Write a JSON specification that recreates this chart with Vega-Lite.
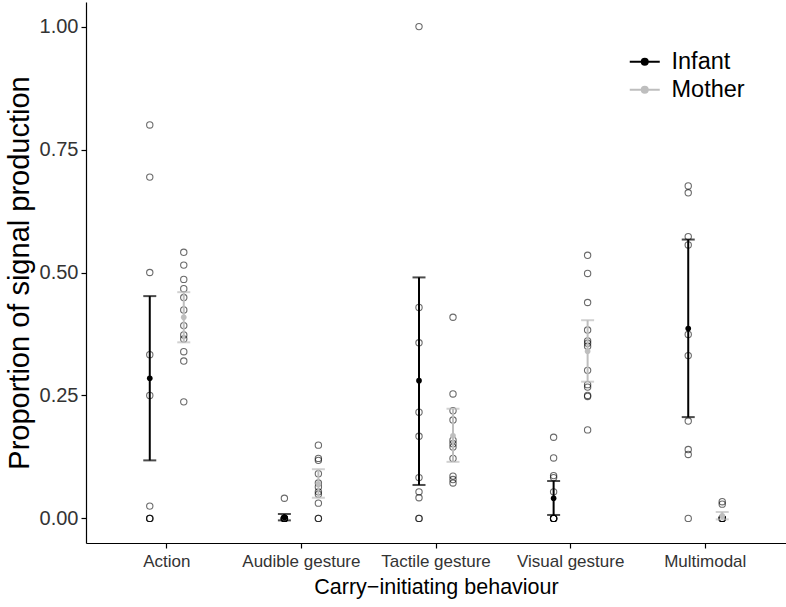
{
  "$schema": "https://vega.github.io/schema/vega-lite/v6.json",
  "width": 700,
  "height": 541,
  "autosize": {"type": "none"},
  "padding": {"left": 86, "top": 2, "right": 0, "bottom": 64},
  "config": {
    "view": {"stroke": null},
    "font": "Liberation Sans",
    "axis": {
      "grid": false,
      "domainColor": "black",
      "domainWidth": 1.2,
      "tickColor": "black",
      "tickWidth": 1.2,
      "tickSize": 5,
      "labelColor": "#4D4D4D",
      "labelFontSize": 18,
      "titleFontSize": 22,
      "titleFontWeight": "normal",
      "titleColor": "black",
      "labelPadding": 3
    },
    "legend": {
      "orient": "none",
      "legendX": 547,
      "legendY": 48,
      "labelFontSize": 23.5,
      "labelColor": "black",
      "symbolType": "M-2,0H2M-0.4,0A0.4,0.4 0 1,0 0.4,0A0.4,0.4 0 1,0 -0.4,0",
      "symbolSize": 225,
      "symbolStrokeWidth": 2,
      "symbolOpacity": 1,
      "labelOffset": 15,
      "rowPadding": 3,
      "padding": 0
    }
  },
  "datasets": {
    "raw": [
      {"cat": "Action", "group": "Infant", "value": 0.8},
      {"cat": "Action", "group": "Infant", "value": 0.694},
      {"cat": "Action", "group": "Infant", "value": 0.5},
      {"cat": "Action", "group": "Infant", "value": 0.333},
      {"cat": "Action", "group": "Infant", "value": 0.25},
      {"cat": "Action", "group": "Infant", "value": 0.025},
      {"cat": "Action", "group": "Infant", "value": 0},
      {"cat": "Action", "group": "Infant", "value": 0},
      {"cat": "Action", "group": "Infant", "value": 0},
      {"cat": "Action", "group": "Mother", "value": 0.541},
      {"cat": "Action", "group": "Mother", "value": 0.515},
      {"cat": "Action", "group": "Mother", "value": 0.486},
      {"cat": "Action", "group": "Mother", "value": 0.467},
      {"cat": "Action", "group": "Mother", "value": 0.449},
      {"cat": "Action", "group": "Mother", "value": 0.424},
      {"cat": "Action", "group": "Mother", "value": 0.392},
      {"cat": "Action", "group": "Mother", "value": 0.373},
      {"cat": "Action", "group": "Mother", "value": 0.365},
      {"cat": "Action", "group": "Mother", "value": 0.339},
      {"cat": "Action", "group": "Mother", "value": 0.32},
      {"cat": "Action", "group": "Mother", "value": 0.237},
      {"cat": "Audible gesture", "group": "Infant", "value": 0.041},
      {"cat": "Audible gesture", "group": "Infant", "value": 0},
      {"cat": "Audible gesture", "group": "Infant", "value": 0},
      {"cat": "Audible gesture", "group": "Infant", "value": 0},
      {"cat": "Audible gesture", "group": "Infant", "value": 0},
      {"cat": "Audible gesture", "group": "Infant", "value": 0},
      {"cat": "Audible gesture", "group": "Infant", "value": 0},
      {"cat": "Audible gesture", "group": "Mother", "value": 0.149},
      {"cat": "Audible gesture", "group": "Mother", "value": 0.122},
      {"cat": "Audible gesture", "group": "Mother", "value": 0.118},
      {"cat": "Audible gesture", "group": "Mother", "value": 0.091},
      {"cat": "Audible gesture", "group": "Mother", "value": 0.072},
      {"cat": "Audible gesture", "group": "Mother", "value": 0.064},
      {"cat": "Audible gesture", "group": "Mother", "value": 0.054},
      {"cat": "Audible gesture", "group": "Mother", "value": 0.049},
      {"cat": "Audible gesture", "group": "Mother", "value": 0.031},
      {"cat": "Audible gesture", "group": "Mother", "value": 0},
      {"cat": "Audible gesture", "group": "Mother", "value": 0},
      {"cat": "Tactile gesture", "group": "Infant", "value": 1.0},
      {"cat": "Tactile gesture", "group": "Infant", "value": 0.429},
      {"cat": "Tactile gesture", "group": "Infant", "value": 0.357},
      {"cat": "Tactile gesture", "group": "Infant", "value": 0.216},
      {"cat": "Tactile gesture", "group": "Infant", "value": 0.167},
      {"cat": "Tactile gesture", "group": "Infant", "value": 0.083},
      {"cat": "Tactile gesture", "group": "Infant", "value": 0.054},
      {"cat": "Tactile gesture", "group": "Infant", "value": 0.042},
      {"cat": "Tactile gesture", "group": "Infant", "value": 0},
      {"cat": "Tactile gesture", "group": "Infant", "value": 0},
      {"cat": "Tactile gesture", "group": "Mother", "value": 0.409},
      {"cat": "Tactile gesture", "group": "Mother", "value": 0.253},
      {"cat": "Tactile gesture", "group": "Mother", "value": 0.219},
      {"cat": "Tactile gesture", "group": "Mother", "value": 0.2},
      {"cat": "Tactile gesture", "group": "Mother", "value": 0.159},
      {"cat": "Tactile gesture", "group": "Mother", "value": 0.152},
      {"cat": "Tactile gesture", "group": "Mother", "value": 0.145},
      {"cat": "Tactile gesture", "group": "Mother", "value": 0.122},
      {"cat": "Tactile gesture", "group": "Mother", "value": 0.086},
      {"cat": "Tactile gesture", "group": "Mother", "value": 0.079},
      {"cat": "Tactile gesture", "group": "Mother", "value": 0.072},
      {"cat": "Visual gesture", "group": "Infant", "value": 0.165},
      {"cat": "Visual gesture", "group": "Infant", "value": 0.123},
      {"cat": "Visual gesture", "group": "Infant", "value": 0.087},
      {"cat": "Visual gesture", "group": "Infant", "value": 0.083},
      {"cat": "Visual gesture", "group": "Infant", "value": 0.054},
      {"cat": "Visual gesture", "group": "Infant", "value": 0},
      {"cat": "Visual gesture", "group": "Infant", "value": 0},
      {"cat": "Visual gesture", "group": "Infant", "value": 0},
      {"cat": "Visual gesture", "group": "Infant", "value": 0},
      {"cat": "Visual gesture", "group": "Infant", "value": 0},
      {"cat": "Visual gesture", "group": "Mother", "value": 0.535},
      {"cat": "Visual gesture", "group": "Mother", "value": 0.498},
      {"cat": "Visual gesture", "group": "Mother", "value": 0.439},
      {"cat": "Visual gesture", "group": "Mother", "value": 0.383},
      {"cat": "Visual gesture", "group": "Mother", "value": 0.361},
      {"cat": "Visual gesture", "group": "Mother", "value": 0.356},
      {"cat": "Visual gesture", "group": "Mother", "value": 0.35},
      {"cat": "Visual gesture", "group": "Mother", "value": 0.301},
      {"cat": "Visual gesture", "group": "Mother", "value": 0.272},
      {"cat": "Visual gesture", "group": "Mother", "value": 0.267},
      {"cat": "Visual gesture", "group": "Mother", "value": 0.25},
      {"cat": "Visual gesture", "group": "Mother", "value": 0.248},
      {"cat": "Visual gesture", "group": "Mother", "value": 0.18},
      {"cat": "Multimodal", "group": "Infant", "value": 0.676},
      {"cat": "Multimodal", "group": "Infant", "value": 0.662},
      {"cat": "Multimodal", "group": "Infant", "value": 0.573},
      {"cat": "Multimodal", "group": "Infant", "value": 0.556},
      {"cat": "Multimodal", "group": "Infant", "value": 0.374},
      {"cat": "Multimodal", "group": "Infant", "value": 0.331},
      {"cat": "Multimodal", "group": "Infant", "value": 0.198},
      {"cat": "Multimodal", "group": "Infant", "value": 0.14},
      {"cat": "Multimodal", "group": "Infant", "value": 0.13},
      {"cat": "Multimodal", "group": "Infant", "value": 0},
      {"cat": "Multimodal", "group": "Mother", "value": 0.034},
      {"cat": "Multimodal", "group": "Mother", "value": 0.029},
      {"cat": "Multimodal", "group": "Mother", "value": 0},
      {"cat": "Multimodal", "group": "Mother", "value": 0},
      {"cat": "Multimodal", "group": "Mother", "value": 0},
      {"cat": "Multimodal", "group": "Mother", "value": 0},
      {"cat": "Multimodal", "group": "Mother", "value": 0}
    ],
    "summary": [
      {"cat": "Action", "group": "Infant", "mean": 0.285, "lo": 0.118, "hi": 0.452},
      {"cat": "Action", "group": "Mother", "mean": 0.409, "lo": 0.358, "hi": 0.46},
      {"cat": "Audible gesture", "group": "Infant", "mean": 0.002, "lo": -0.004, "hi": 0.009},
      {"cat": "Audible gesture", "group": "Mother", "mean": 0.07, "lo": 0.042, "hi": 0.1},
      {"cat": "Tactile gesture", "group": "Infant", "mean": 0.28, "lo": 0.068, "hi": 0.49},
      {"cat": "Tactile gesture", "group": "Mother", "mean": 0.168, "lo": 0.115, "hi": 0.223},
      {"cat": "Visual gesture", "group": "Infant", "mean": 0.041, "lo": 0.007, "hi": 0.076},
      {"cat": "Visual gesture", "group": "Mother", "mean": 0.34, "lo": 0.278, "hi": 0.403},
      {"cat": "Multimodal", "group": "Infant", "mean": 0.386, "lo": 0.206, "hi": 0.567},
      {"cat": "Multimodal", "group": "Mother", "mean": 0.005, "lo": -0.002, "hi": 0.013}
    ]
  },
  "encoding": {
    "x": {
      "field": "cat",
      "type": "nominal",
      "sort": ["Action", "Audible gesture", "Tactile gesture", "Visual gesture", "Multimodal"],
      "scale": {"paddingInner": 0, "paddingOuter": 0.1},
      "axis": {"labelAngle": 0, "title": "Carry−initiating behaviour", "labelFontSize": 17, "labelColor": "#333333", "labelPadding": 5, "titleFontSize": 21.5, "titlePadding": 7}
    },
    "xOffset": {
      "field": "group",
      "type": "nominal",
      "scale": {"domain": ["Infant", "Mother"], "paddingInner": 0, "paddingOuter": 0.98}
    }
  },
  "layer": [
    {
      "data": {"name": "raw"},
      "mark": {"type": "point", "shape": "circle", "filled": false, "size": 40, "strokeWidth": 1.1, "color": "black", "opacity": 0.58},
      "encoding": {
        "y": {
          "field": "value",
          "type": "quantitative",
          "scale": {"domain": [-0.05, 1.05], "nice": false, "zero": false},
          "axis": {"values": [0, 0.25, 0.5, 0.75, 1], "format": ".2f", "title": "Proportion of signal production", "labelFontSize": 20, "labelColor": "#333333", "titleFontSize": 29, "titlePadding": 5}
        }
      }
    },
    {
      "data": {"name": "summary"},
      "mark": {"type": "rule", "strokeWidth": 2},
      "encoding": {
        "y": {"field": "lo", "type": "quantitative"},
        "y2": {"field": "hi"},
        "color": {"field": "group", "type": "nominal", "scale": {"domain": ["Infant", "Mother"], "range": ["black", "#BEBEBE"]}, "title": null}
      }
    },
    {
      "data": {"name": "summary"},
      "mark": {"type": "tick", "size": 13, "thickness": 2},
      "encoding": {
        "y": {"field": "lo", "type": "quantitative"},
        "color": {"field": "group", "type": "nominal", "title": null}
      }
    },
    {
      "data": {"name": "summary"},
      "mark": {"type": "tick", "size": 13, "thickness": 2},
      "encoding": {
        "y": {"field": "hi", "type": "quantitative"},
        "color": {"field": "group", "type": "nominal", "title": null}
      }
    },
    {
      "data": {"name": "summary"},
      "mark": {"type": "point", "shape": "circle", "filled": true, "size": 32, "opacity": 1},
      "encoding": {
        "y": {"field": "mean", "type": "quantitative"},
        "color": {
          "field": "group",
          "type": "nominal",
          "title": null,
          "legend": {
            "encode": {
              "symbols": {
                "update": {
                  "fill": {"scale": "color", "field": "value"},
                  "stroke": {"scale": "color", "field": "value"},
                  "opacity": {"value": 1}
                }
              }
            }
          }
        }
      }
    }
  ]
}
